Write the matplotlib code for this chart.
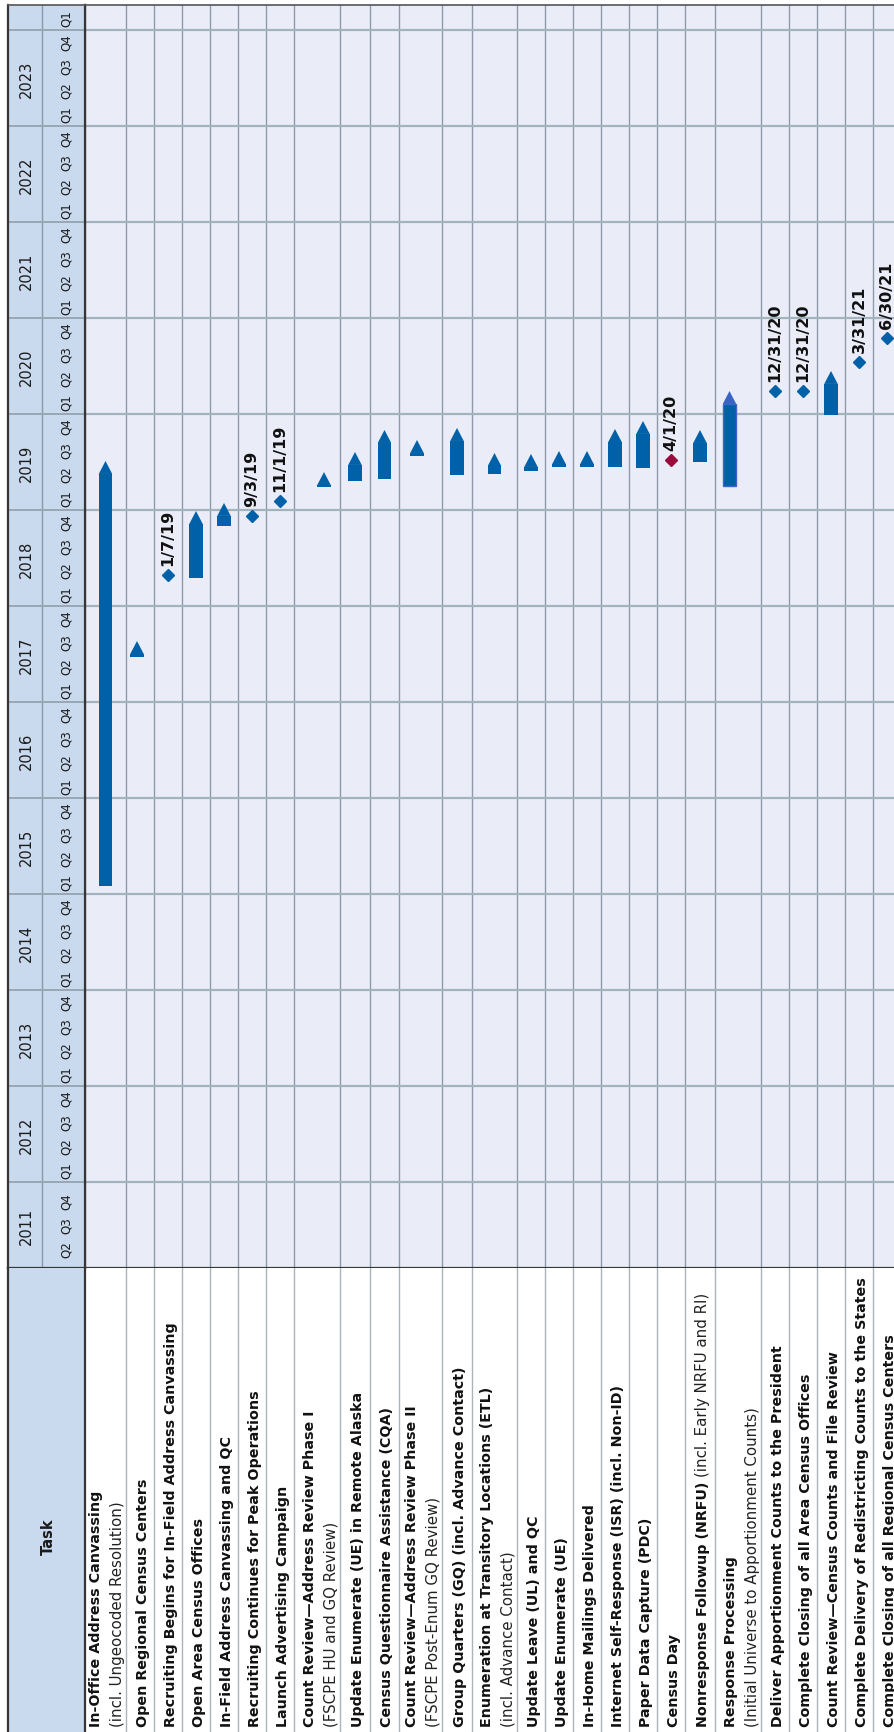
import matplotlib
matplotlib.use("Agg")
import matplotlib.pyplot as plt
from matplotlib.patches import Polygon

plt.rcParams['font.family'] = ['DejaVu Sans']

# ------------------------------------------------------------------ data
task_titles = [
    "In-Office Address Canvassing",
    "Open Regional Census Centers",
    "Recruiting Begins for In-Field Address Canvassing",
    "Open Area Census Offices",
    "In-Field Address Canvassing and QC",
    "Recruiting Continues for Peak Operations",
    "Launch Advertising Campaign",
    "Count Review\u2014Address Review Phase I",
    "Update Enumerate (UE) in Remote Alaska",
    "Census Questionnaire Assistance (CQA)",
    "Count Review\u2014Address Review Phase II",
    "Group Quarters (GQ) (incl. Advance Contact)",
    "Enumeration at Transitory Locations (ETL)",
    "Update Leave (UL) and QC",
    "Update Enumerate (UE)",
    "In-Home Mailings Delivered",
    "Internet Self-Response (ISR) (incl. Non-ID)",
    "Paper Data Capture (PDC)",
    "Census Day",
    "Nonresponse Followup (NRFU)",
    "Response Processing",
    "Deliver Apportionment Counts to the President",
    "Complete Closing of all Area Census Offices",
    "Count Review\u2014Census Counts and File Review",
    "Complete Delivery of Redistricting Counts to the States",
    "Complete Closing of all Regional Census Centers",
]
# second (light) line under a title
task_notes = {
    0: "(incl. Ungeocoded Resolution)",
    7: "(FSCPE HU and GQ Review)",
    10: "(FSCPE Post-Enum GQ Review)",
    12: "(incl. Advance Contact)",
    20: "(Initial Universe to Apportionment Counts)",
}
# light text following the title on the same line
task_inline_notes = {19: "(incl. Early NRFU and RI)"}

task_kinds = ["bar", "bar", "milestone", "bar", "bar", "milestone", "milestone",
              "bar", "bar", "bar", "bar", "bar", "bar", "bar", "bar", "bar",
              "bar", "bar", "milestone", "bar", "bar", "milestone", "milestone",
              "bar", "milestone", "milestone"]
# positions on the chart's time axis (years)
task_starts = [2015.083, 2017.469, 2018.323, 2018.292, 2018.833, 2018.938, 2019.094,
               2019.240, 2019.302, 2019.323, 2019.563, 2019.365, 2019.375, 2019.406,
               2019.448, 2019.448, 2019.448, 2019.438, 2019.521, 2019.500, 2019.250,
               2020.240, 2020.240, 2019.990, 2020.542, 2020.792]
task_ends = [2019.375, 2017.500, 2018.323, 2018.854, 2018.938, 2018.938, 2019.094,
             2019.260, 2019.469, 2019.698, 2019.594, 2019.719, 2019.458, 2019.448,
             2019.479, 2019.479, 2019.708, 2019.792, 2019.521, 2019.698, 2020.104,
             2020.240, 2020.240, 2020.313, 2020.542, 2020.792]
milestone_labels = ["", "", "1/7/19", "", "", "9/3/19", "11/1/19", "", "", "", "", "",
                    "", "", "", "", "", "", "4/1/20", "", "", "12/31/20", "12/31/20",
                    "", "3/31/21", "6/30/21"]

years = list(range(2011, 2025))
year_labels = [str(y) for y in range(2011, 2024)] + [""]
year_quarters = [["Q2", "Q3", "Q4"]] + [["Q1", "Q2", "Q3", "Q4"]] * 12 + [["Q1"]]
time_min, time_max = 2011.104, 2024.26

# ------------------------------------------------------------------ style / layout
W, H = 895, 1733
col_widths = [41, 28, 28, 28, 28, 28, 28, 46, 30, 29, 43, 30, 45, 28, 28, 28, 28,
              28, 28, 30, 46, 28, 28, 28, 28, 28]
bar_dx = {1: -3, 7: 7, 10: -3.5, 20: -8.5}
BLUE = "#0061a8"
RED = "#9b0a3c"
red_milestones = {18}
CHART_BG = "#eaedf8"
HEAD_BG = "#c9d9ee"
GRID = "#8b9ba7"
YEARLINE = "#a3b3be"
DARK = "#363636"
BAR_W = 13.5
TRI_H = 0.135

fig = plt.figure(figsize=(W / 100, H / 100), dpi=100)
fig.patch.set_facecolor("white")


def px_axes(x0, y0, x1, y1):
    return fig.add_axes([x0 / W, 1 - y1 / H, (x1 - x0) / W, (y1 - y0) / H])


chart_x0, chart_top, chart_bot = 85, 6, 1269
ax = px_axes(chart_x0, chart_top, W, chart_bot)
axl = px_axes(chart_x0, chart_bot, W, H)
axh = px_axes(8, chart_top, chart_x0, chart_bot)
axt = px_axes(8, chart_bot, chart_x0, H)

xspan = W - chart_x0
edges = [0]
for w in col_widths:
    edges.append(edges[-1] + w)
centers = [(edges[i] + edges[i + 1]) / 2 for i in range(len(col_widths))]

# ---- chart area
ax.set_xlim(0, xspan)
ax.set_ylim(time_min, time_max)
ax.set_facecolor(CHART_BG)
ax.set_xticks([]); ax.set_yticks([])
for e in edges[1:]:
    ax.axvline(e, color=GRID, lw=1.0, zorder=1)
for y in years:
    if time_min < y < time_max:
        ax.axhline(y, color=YEARLINE, lw=1.6, zorder=1)
ax.spines["right"].set_visible(False)
ax.spines["left"].set_color(DARK); ax.spines["left"].set_linewidth(1.6)
ax.spines["bottom"].set_color(DARK); ax.spines["bottom"].set_linewidth(1.6)
ax.spines["top"].set_color("#555555"); ax.spines["top"].set_linewidth(1.2)

for i, kind in enumerate(task_kinds):
    c = centers[i] + bar_dx.get(i, 0)
    s, e = task_starts[i], task_ends[i]
    if kind == "bar":
        special = (i == 20)
        ax.bar(c, e - s, bottom=s, width=BAR_W, color=BLUE,
               edgecolor="#3f66c8" if special else BLUE,
               linewidth=1.0 if special else 0, zorder=3)
        ax.add_patch(Polygon([(c - BAR_W / 2, e), (c + BAR_W / 2, e), (c, e + TRI_H)],
                             closed=True, facecolor="#3a63c2" if special else BLUE,
                             edgecolor="none", zorder=3))
    else:
        col = RED if i in red_milestones else BLUE
        ax.plot([c], [s], marker="D", ms=6.2, color=col, mec=col, zorder=4,
                linestyle="none")
        ax.annotate(milestone_labels[i], xy=(c, s), xytext=(0, 7),
                    textcoords="offset points", rotation=90, ha="center",
                    va="bottom", fontsize=11.5, fontweight="bold", color="#111111",
                    zorder=5)

# ---- header (years / quarters)
axh.set_xlim(0, 77)
axh.set_ylim(time_min, time_max)
axh.set_facecolor(HEAD_BG)
axh.set_xticks([]); axh.set_yticks([])
axh.axvline(34, color=GRID, lw=1.0)
for y in years:
    if time_min < y < time_max:
        axh.axhline(y, color="#98a8b3", lw=1.4)
for sp in axh.spines.values():
    sp.set_color(DARK); sp.set_linewidth(1.6)
axh.spines["top"].set_color("#555555"); axh.spines["top"].set_linewidth(1.2)
for y, ylab, qs in zip(years, year_labels, year_quarters):
    lo, hi = max(y, time_min), min(y + 1, time_max)
    mid = (lo + hi) / 2
    n = len(qs)
    if ylab:
        axh.text(18.5, mid, ylab, rotation=90, ha="center", va="center",
                 fontsize=10.5, color="#1a1a1a")
    for k, q in enumerate(qs):
        axh.text(58, mid + (k - (n - 1) / 2) * 0.25, q, rotation=90, ha="center",
                 va="center", fontsize=8.6, color="#1a1a1a")

# ---- task header
axt.set_xlim(0, 77); axt.set_ylim(0, H - chart_bot)
axt.set_facecolor(HEAD_BG)
axt.set_xticks([]); axt.set_yticks([])
for s in ["top", "bottom"]:
    axt.spines[s].set_visible(False)
for s in ["left", "right"]:
    axt.spines[s].set_color(DARK); axt.spines[s].set_linewidth(1.6)
axt.text(40, H - 1537, "Task", rotation=90, ha="center", va="center",
         fontsize=10.5, fontweight="bold", color="#1a1a1a")

# ---- task labels
axl.set_xlim(0, xspan); axl.set_ylim(0, H - chart_bot)
axl.set_facecolor("white")
axl.set_xticks([]); axl.set_yticks([])
for sp in axl.spines.values():
    sp.set_visible(False)
for e in edges[1:]:
    axl.axvline(e, color="#a9b5be", lw=1.0)

TITLE_FS = 10.3
NOTE_FS = 10.8
base_y = 6
renderer = fig.canvas.get_renderer()
for i, title in enumerate(task_titles):
    if i in task_notes:
        x2 = edges[i + 1] - 8.5
        x1 = x2 - 21
        axl.text(x1, base_y, title, rotation=90, ha="center", va="bottom",
                 fontsize=TITLE_FS, fontweight="bold", color="#111111")
        axl.text(x2, base_y, task_notes[i], rotation=90, ha="center", va="bottom",
                 fontsize=NOTE_FS, color="#222222")
    else:
        x = centers[i] + 3
        t1 = axl.text(x, base_y, title, rotation=90, ha="center", va="bottom",
                      fontsize=TITLE_FS, fontweight="bold", color="#111111")
        if i in task_inline_notes:
            bb = t1.get_window_extent(renderer)
            xd, yd = axl.transData.transform((x, base_y))
            _, ytop = axl.transData.inverted().transform((xd, bb.y1 + 5))
            axl.text(x, ytop, task_inline_notes[i], rotation=90, ha="center",
                     va="bottom", fontsize=NOTE_FS, color="#222222")

fig.savefig("out.png", dpi=100)
